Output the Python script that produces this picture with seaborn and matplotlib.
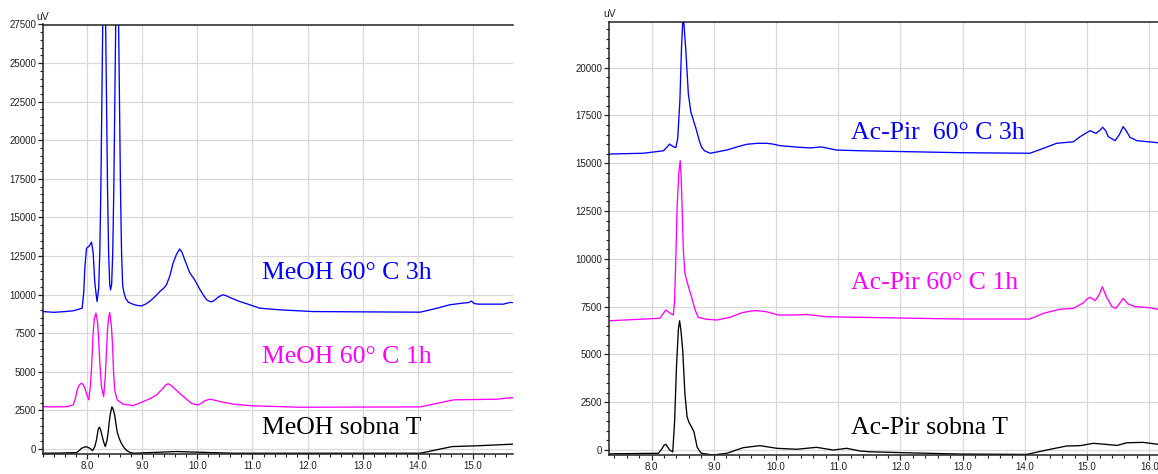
import numpy as np
import pandas as pd
import matplotlib
matplotlib.use("Agg")
import matplotlib.pyplot as plt
import seaborn as sns
from matplotlib.ticker import MultipleLocator, FormatStrFormatter

# ---------------- data: left panel (MeOH) ----------------
meoh_3h_t = [7.20, 7.40, 7.60, 7.75, 7.85, 7.91, 7.94, 7.96, 7.99, 8.04, 8.08, 8.11, 8.14, 8.18,
             8.21, 8.23, 8.25, 8.27, 8.29, 8.31, 8.33, 8.35, 8.37, 8.39, 8.41, 8.425, 8.445,
             8.465, 8.485, 8.505, 8.525, 8.545, 8.565, 8.585, 8.605, 8.625, 8.645, 8.67, 8.70,
             8.75, 8.85, 8.92, 8.99, 9.07, 9.15, 9.24, 9.32, 9.40, 9.44, 9.50, 9.56, 9.62, 9.68,
             9.72, 9.77, 9.86, 9.95, 10.05, 10.12, 10.17, 10.22, 10.26, 10.32, 10.38, 10.46,
             10.52, 10.59, 10.77, 10.95, 11.13, 11.50, 12.10, 13.00, 14.04, 14.20, 14.35,
             14.58, 14.82, 14.92, 14.97, 15.02, 15.10, 15.55, 15.67, 15.72]
meoh_3h_v = [8900, 8850, 8900, 8950, 9050, 9120, 10200, 11800, 13000, 13150, 13400, 12700, 10750, 9550,
             10400, 12700, 17000, 23300, 29400, 32000, 29400, 23300, 17000, 12700, 10700, 10300, 10650,
             12700, 17000, 23300, 29400, 32000, 29400, 23300, 17000, 12700, 10600, 10100, 9750,
             9500, 9350, 9290, 9270, 9400, 9600, 9900, 10200, 10450, 10640, 11200, 12040, 12600, 12950,
             12750, 12260, 11430, 10960, 10310, 9900, 9660, 9560, 9530, 9660, 9840, 9990,
             9930, 9810, 9550, 9340, 9120, 9010, 8900, 8880, 8860, 8990, 9120,
             9340, 9450, 9480, 9580, 9420, 9380, 9380, 9490, 9480]

meoh_1h_t = [7.20, 7.38, 7.63, 7.75, 7.79, 7.82, 7.86, 7.90, 7.93, 7.96, 8.00, 8.03, 8.06, 8.08,
             8.11, 8.13, 8.16, 8.19, 8.21, 8.23, 8.26, 8.30, 8.33, 8.37, 8.39, 8.41, 8.44, 8.46,
             8.48, 8.50, 8.545, 8.65, 8.84, 9.02, 9.15, 9.26, 9.38, 9.43, 9.47, 9.51, 9.56, 9.71,
             9.89, 9.95, 10.01, 10.07, 10.14, 10.23, 10.30, 10.41, 10.65, 11.01, 11.50,
             11.86, 14.04, 14.65, 15.43, 15.67, 15.72]
meoh_1h_v = [2740, 2720, 2740, 2850, 3300, 3830, 4150, 4260, 4150, 3940, 3450, 3180, 4100, 5200,
             7520, 8400, 8800, 8200, 7070, 5600, 4040, 3390, 4700, 7700, 8500, 8840, 8000, 6850,
             5000, 3830, 3180, 2900, 2810, 3070, 3270, 3500, 3940, 4150, 4220, 4150, 4000, 3500,
             2960, 2890, 2850, 2950, 3130, 3220, 3170, 3070, 2900, 2790, 2740,
             2700, 2720, 3180, 3220, 3310, 3320]

meoh_rt_t = [7.20, 7.50, 7.81, 7.86, 7.90, 7.98, 8.05, 8.10, 8.14, 8.17, 8.20, 8.22, 8.24, 8.26,
             8.30, 8.33, 8.36, 8.38, 8.40, 8.42, 8.45, 8.47, 8.50, 8.52, 8.545, 8.58, 8.62, 8.67,
             8.72, 8.78, 8.84, 9.62, 10.65, 14.04, 14.62, 15.13, 15.67, 15.72]
meoh_rt_v = [-280, -270, -240, -100, 45, 150, 45, -110, 150, 580, 1250, 1410, 1300, 1020,
             450, 150, 550, 1020, 1700, 2250, 2720, 2600, 2200, 1700, 1120, 700, 370, 80,
             -110, -230, -280, -170, -280, -280, 150, 210, 300, 310]

# ---------------- data: right panel (Ac-Pir) ----------------
acpir_3h_t = [7.32, 7.865, 8.19, 8.25, 8.29, 8.33, 8.37, 8.39, 8.42, 8.455, 8.48, 8.50, 8.51, 8.52,
              8.53, 8.55, 8.59, 8.63, 8.72, 8.76, 8.80, 8.85, 8.94, 9.21, 9.37, 9.53, 9.70, 9.85,
              9.95, 10.06, 10.38, 10.55, 10.73, 10.97, 11.35, 12.96, 14.08, 14.30, 14.51, 14.78,
              14.89, 14.97, 15.05, 15.14, 15.20, 15.25, 15.30, 15.34, 15.45, 15.52, 15.58, 15.63,
              15.69, 15.80, 16.14]
acpir_3h_v = [15480, 15520, 15650, 15850, 16000, 15900, 15830, 15830, 16300, 18300, 21000, 22400, 22600, 22300,
              21800, 20920, 18650, 17690, 16740, 16250, 15860, 15650, 15520, 15690, 15850, 15990, 16040, 16040,
              16000, 15920, 15830, 15800, 15850, 15690, 15650, 15550, 15520, 15780, 16040, 16120,
              16390, 16550, 16700, 16560, 16700, 16880, 16700, 16390, 16180, 16500, 16910, 16700,
              16350, 16180, 16070]

acpir_1h_t = [7.32, 8.13, 8.16, 8.20, 8.23, 8.27, 8.305, 8.35, 8.37, 8.39, 8.41, 8.44, 8.46, 8.475,
              8.49, 8.51, 8.535, 8.57, 8.64, 8.70, 8.75, 8.88, 9.045, 9.26, 9.45, 9.60, 9.69, 9.85,
              10.04, 10.32, 10.49, 10.81, 11.35, 12.96, 14.08, 14.30, 14.56, 14.78, 14.94, 15.00,
              15.05, 15.13, 15.19, 15.245, 15.315, 15.40, 15.46, 15.52, 15.58, 15.66, 15.77, 16.01,
              16.14]
acpir_1h_v = [6760, 6890, 7010, 7200, 7320, 7220, 7150, 7060, 7850, 10110, 12720, 14600, 15130, 14300,
              12720, 10460, 9240, 8800, 8020, 7320, 6940, 6840, 6800, 6940, 7180, 7270, 7290, 7230,
              7060, 7060, 7090, 6970, 6940, 6850, 6850, 7150, 7360, 7410, 7700, 7900,
              7990, 7810, 8100, 8540, 7990, 7500, 7410, 7650, 7930, 7640, 7500, 7440,
              7360]

acpir_rt_t = [7.32, 8.11, 8.16, 8.20, 8.23, 8.26, 8.29, 8.34, 8.37, 8.40, 8.43, 8.45, 8.47, 8.50,
              8.535, 8.57, 8.60, 8.64, 8.68, 8.71, 8.73, 8.77, 8.80, 8.99, 9.21, 9.47, 9.74, 10.01,
              10.33, 10.65, 10.92, 11.135, 11.35, 11.50, 12.05, 12.96, 14.03, 14.35, 14.67, 14.89,
              15.10, 15.29, 15.48, 15.64, 15.90, 16.14]
acpir_rt_v = [-200, -170, 40, 250, 300, 150, 0, -100, 1500, 4360, 6300, 6760, 6300, 5230,
              2960, 1740, 1450, 1220, 960, 500, 170, -50, -170, -260, -170, 120, 230, 90,
              40, 140, 0, 90, -50, -90, -140, -210, -230, 0, 210, 230,
              350, 300, 240, 380, 400, 300]

left_labels = ["MeOH 60° C 3h", "MeOH 60° C 1h", "MeOH sobna T"]
right_labels = ["Ac-Pir  60° C 3h", "Ac-Pir 60° C 1h", "Ac-Pir sobna T"]
colors = ["#0000FF", "#FF00FF", "#000000"]


def frame(ts, vs, names):
    parts = []
    for t, v, n in zip(ts, vs, names):
        parts.append(pd.DataFrame({"time": t, "signal": v, "sample": n}))
    return pd.concat(parts, ignore_index=True)


dfL = frame([meoh_3h_t, meoh_1h_t, meoh_rt_t], [meoh_3h_v, meoh_1h_v, meoh_rt_v], left_labels)
dfR = frame([acpir_3h_t, acpir_1h_t, acpir_rt_t], [acpir_3h_v, acpir_1h_v, acpir_rt_v], right_labels)

sns.set_style("white")
plt.rcParams["font.family"] = ["Liberation Sans", "DejaVu Sans"]

W, H = 1158, 474
fig = plt.figure(figsize=(W / 100, H / 100), dpi=100)
axL = fig.add_axes([43 / W, 1 - 454 / H, (512.7 - 43) / W, (454 - 24.5) / H])
axR = fig.add_axes([609.3 / W, 1 - 455 / H, (W - 609.3) / W, (455 - 21.7) / H])


def style(ax, xlim, ylim):
    ax.set_xlim(*xlim)
    ax.set_ylim(*ylim)
    ax.xaxis.set_major_locator(MultipleLocator(1.0))
    ax.xaxis.set_minor_locator(MultipleLocator(0.2))
    ax.xaxis.set_major_formatter(FormatStrFormatter("%.1f"))
    ax.yaxis.set_major_locator(MultipleLocator(2500))
    ax.yaxis.set_minor_locator(MultipleLocator(500))
    ax.yaxis.set_major_formatter(FormatStrFormatter("%d"))
    ax.grid(True, which="major", color="#d9d9d9", linewidth=0.9)
    ax.set_axisbelow(True)
    for s in ["left", "bottom", "top"]:
        ax.spines[s].set_visible(True)
        ax.spines[s].set_color("#222222")
        ax.spines[s].set_linewidth(1.1)
    ax.spines["right"].set_visible(False)
    ax.tick_params(axis="both", which="major", direction="out", length=3.5, width=0.9,
                   color="#222222", labelsize=7, labelcolor="#222222", pad=1.5,
                   left=True, bottom=True)
    ax.tick_params(axis="both", which="minor", direction="out", length=2.2, width=0.8,
                   color="#222222", left=True, bottom=True)
    ax.set_xlabel("")
    ax.set_ylabel("")
    ax.text(0, 1.006, "uV", transform=ax.transAxes, ha="center", va="bottom",
            fontsize=7.5, color="#222222")


for ax, df, labels in [(axL, dfL, left_labels), (axR, dfR, right_labels)]:
    sns.lineplot(data=df, x="time", y="signal", hue="sample", hue_order=labels,
                 palette=colors, sort=False, estimator=None, units="sample",
                 legend=False, linewidth=0.95, ax=ax)

style(axL, (7.2, 15.72), (-330, 27500))
style(axR, (7.32, 16.14), (-260, 22400))

serif = ["Liberation Serif", "DejaVu Serif"]
left_pos = [(11.17, 11410), (11.17, 5970), (11.17, 1360)]
right_pos = [(11.20, 16580), (11.20, 8730), (11.20, 1150)]
for (x, y), lab, c in zip(left_pos, left_labels, colors):
    axL.text(x, y, lab, color=c, fontsize=18.5, family=serif, ha="left", va="center")
for (x, y), lab, c in zip(right_pos, right_labels, colors):
    axR.text(x, y, lab, color=c, fontsize=18.5, family=serif, ha="left", va="center")

fig.savefig("out.png", dpi=100)
